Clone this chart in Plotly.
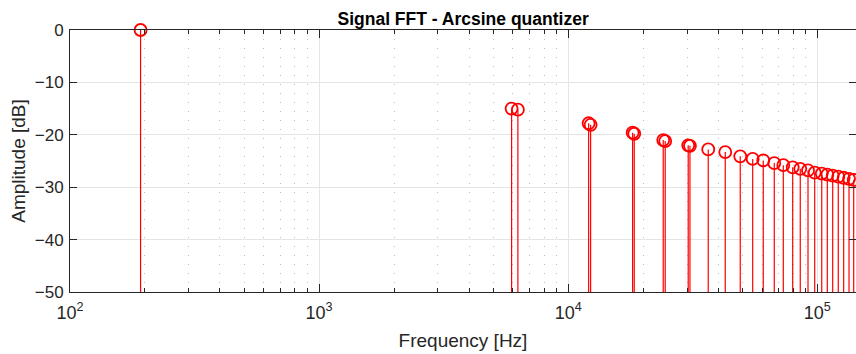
import plotly.graph_objects as go

# Data (frequency in Hz, amplitude in dB)
freqs = [192, 5926, 6281, 12078, 12303, 18140, 18413, 24070, 24520, 30330, 30820,
         36490, 42710, 49060, 55040, 60690, 67190, 73040, 79660, 85440, 91780,
         97640, 104200, 109700, 115300, 121400, 127600, 134100, 140000]
amps = [0.0, -15.0, -15.2, -17.8, -18.1, -19.6, -19.8, -21.0, -21.2, -22.0, -22.1,
        -22.8, -23.3, -24.1, -24.6, -24.9, -25.4, -25.8, -26.2, -26.5, -26.8,
        -27.2, -27.4, -27.6, -27.8, -28.0, -28.2, -28.4, -28.6]
y_ticks = [0, -10, -20, -30, -40, -50]
x_tickvals = [100, 1000, 10000, 100000]
x_ticktext = ["10<sup>2</sup>", "10<sup>3</sup>", "10<sup>4</sup>", "10<sup>5</sup>"]
x_minor = [m * d for d in [100, 1000, 10000, 100000] for m in range(2, 10)]
y_min = -50

stem_x, stem_y = [], []
for f, a in zip(freqs, amps):
    stem_x += [f, f, None]
    stem_y += [y_min - 5, a, None]

fig = go.Figure()
fig.add_trace(go.Scatter(x=stem_x, y=stem_y, mode="lines",
                         line=dict(color="#ff0000", width=1.2),
                         hoverinfo="skip", showlegend=False))
fig.add_trace(go.Scatter(x=freqs, y=amps, mode="markers",
                         marker=dict(symbol="circle-open", size=12, color="#ff0000",
                                     line=dict(width=1.8, color="#ff0000")),
                         showlegend=False, cliponaxis=False))

FONT = "Liberation Sans, Arial, Helvetica, sans-serif"
fig.update_layout(
    width=856, height=354,
    margin=dict(l=70, r=0, t=29.5, b=62.3),
    paper_bgcolor="white", plot_bgcolor="white",
    title=dict(text="<b>Signal FFT - Arcsine quantizer</b>", x=0.541, xanchor="center",
               y=0.948, yanchor="middle",
               font=dict(family=FONT, size=17.5, color="black")),
    font=dict(family=FONT, size=17, color="#262626"),
)
fig.update_xaxes(
    type="log", range=[2, 5.1554],
    tickmode="array", tickvals=x_tickvals, ticktext=x_ticktext,
    ticks="inside", ticklen=8, tickcolor="#262626", tickwidth=1,
    showline=True, linecolor="#262626", linewidth=1, mirror="ticks",
    showgrid=True, gridcolor="#e4e4e4", gridwidth=1,
    minor=dict(tickmode="array", tickvals=x_minor, ticks="inside", ticklen=4,
               tickcolor="#262626", showgrid=True, gridcolor="#bdbdbd",
               griddash="1px,8px", gridwidth=1),
    zeroline=False,
    ticklabelstandoff=4,
    title=dict(text="Frequency [Hz]", font=dict(size=19, color="#262626"), standoff=12),
    tickfont=dict(size=18, color="#262626"),
)
fig.update_yaxes(
    range=[-50, 0], tickmode="array", tickvals=y_ticks,
    ticks="inside", ticklen=7, tickcolor="#262626", tickwidth=1,
    showline=True, linecolor="#262626", linewidth=1, mirror="ticks",
    showgrid=True, gridcolor="#e4e4e4", gridwidth=1,
    zeroline=False,
    ticklabelstandoff=2,
    title=dict(text="Amplitude [dB]", font=dict(size=19, color="#262626"), standoff=4),
    tickfont=dict(size=17, color="#262626"),
)
fig.write_html("out.html")
